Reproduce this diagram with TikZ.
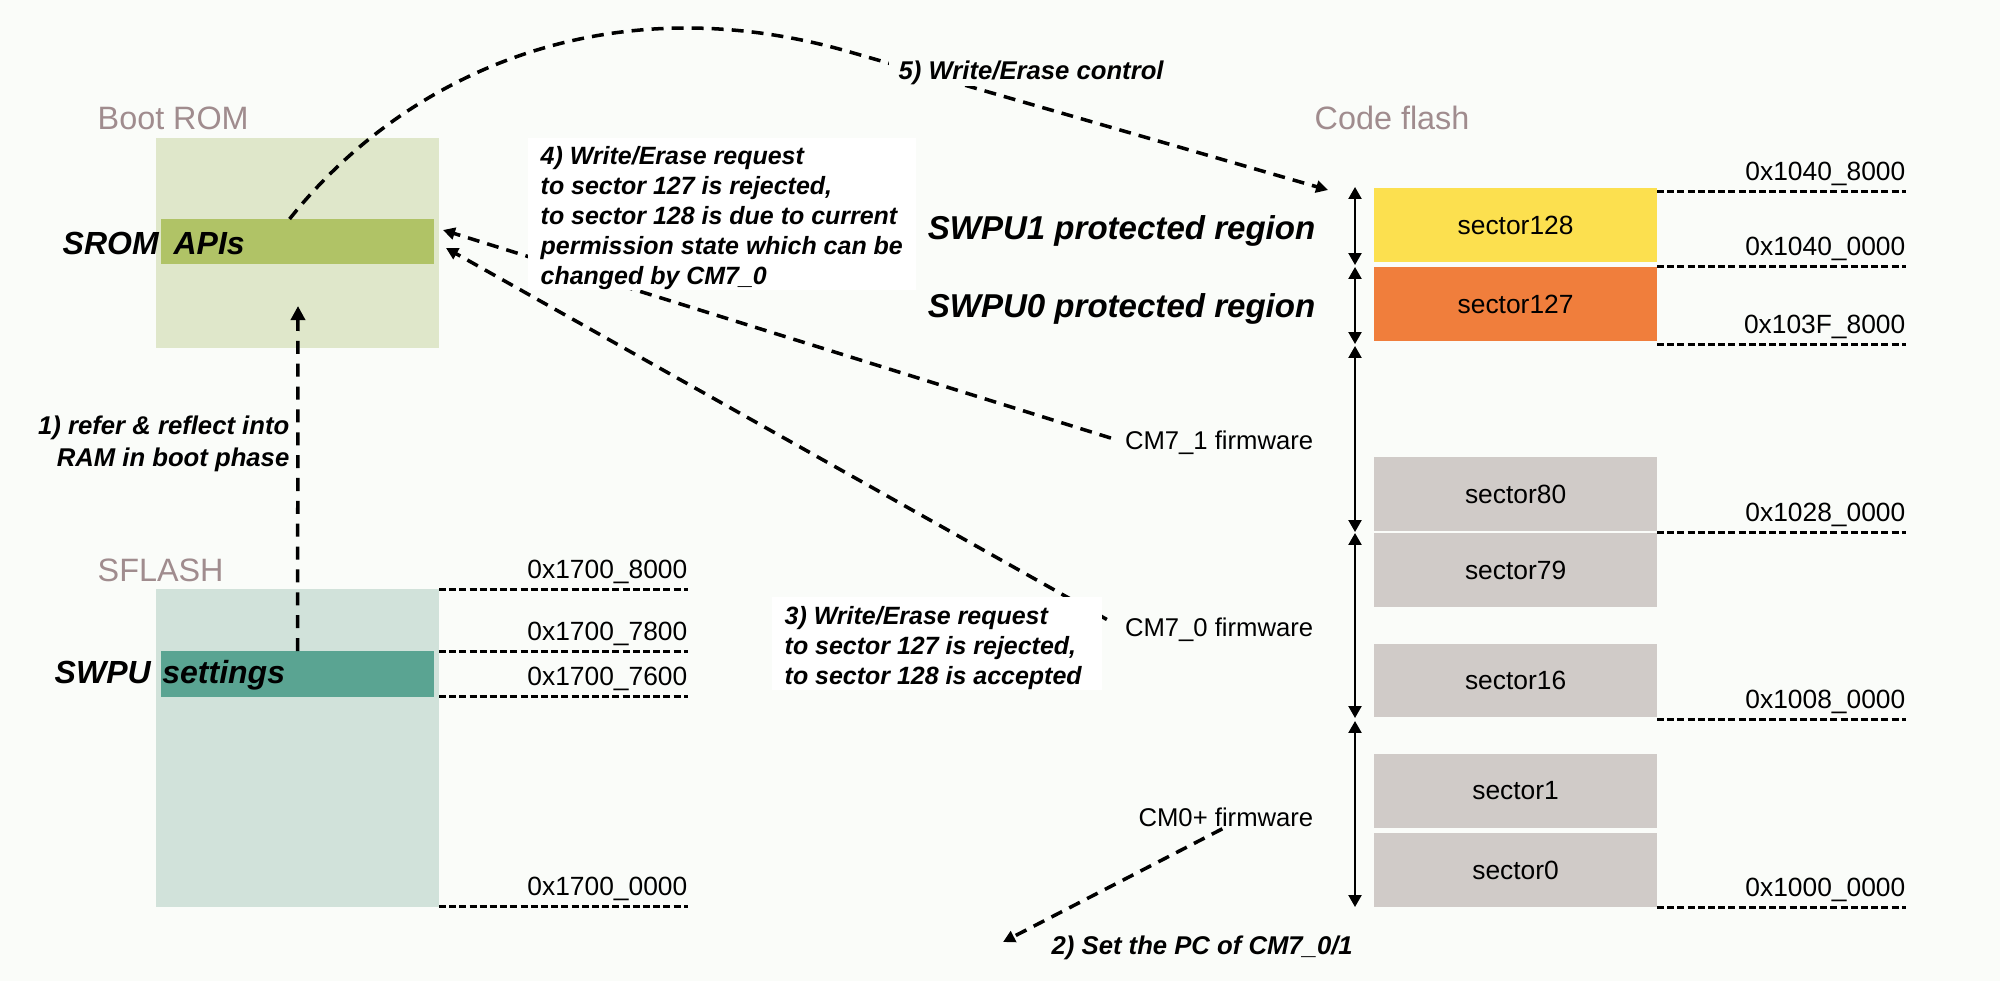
\documentclass[tikz,border=0pt]{standalone}
\usepackage{fontspec}
\setmainfont{Liberation Sans}
\usetikzlibrary{arrows.meta,calc}
\definecolor{bg}{HTML}{FAFCF9}
\definecolor{bootromfill}{HTML}{DFE7CA}
\definecolor{sromfill}{HTML}{B0C366}
\definecolor{sflashfill}{HTML}{D1E2DA}
\definecolor{swpufill}{HTML}{5AA492}
\definecolor{yellowsec}{HTML}{FCE04F}
\definecolor{orangesec}{HTML}{F07E3C}
\definecolor{graysec}{HTML}{D0CBC8}
\definecolor{mauve}{HTML}{A08C8E}
\begin{document}
\begin{tikzpicture}[x=0.01cm,y=-0.01cm,
  blk/.style={anchor=north west, inner sep=0, outer sep=0, draw=none},
  secbox/.style={blk, minimum width=2.83cm, minimum height=0.74cm, font=\fontsize{7.5}{9}\selectfont},
  xtitle/.style={font=\fontsize{9.2}{11}\selectfont, text=mauve, inner sep=0, anchor=base west},
  xbig/.style={font=\fontsize{9.1}{11}\selectfont\bfseries\itshape, inner sep=0},
  xbigger/.style={font=\fontsize{9.4}{11}\selectfont\bfseries\itshape, inner sep=0},
  xnote/.style={font=\fontsize{7.3}{9.1}\selectfont\bfseries\itshape, inner sep=0},
  xnotefour/.style={font=\fontsize{7.1}{8.5}\selectfont\bfseries\itshape, inner sep=0},
  xfw/.style={font=\fontsize{7.3}{9}\selectfont, inner sep=0, anchor=base east},
  addrlab/.style={font=\fontsize{7.5}{9}\selectfont, inner sep=0, anchor=base east},
  addrline/.style={line width=0.85pt, dash pattern=on 2pt off 0.9pt},
  dconn/.style={line width=1pt, dash pattern=on 3.4pt off 2.3pt, -{Triangle[length=3.4pt,width=3.4pt]}},
  vconn/.style={line width=1pt, dash pattern=on 3.7pt off 2.8pt, -{Triangle[length=4pt,width=4pt]}},
  spanarrow/.style={line width=0.6pt, {Triangle[length=3.4pt,width=3.7pt]}-{Triangle[length=3.4pt,width=3.7pt]}}
]
\useasboundingbox (0,0) rectangle (2000,981);
\fill[bg] (0,0) rectangle (2000,981);

% ---- left memory blocks
\node[blk, fill=bootromfill, minimum width=2.83cm, minimum height=2.10cm] (bootrom) at (156,138) {};
\node[blk, fill=sromfill, minimum width=2.73cm, minimum height=0.45cm] (srom) at (161,219) {};
\node[blk, fill=sflashfill, minimum width=2.83cm, minimum height=3.18cm] (sflash) at (156,589) {};
\node[blk, fill=swpufill, minimum width=2.73cm, minimum height=0.46cm] (swpu) at (161,651) {};

% ---- code flash sectors
\node[secbox, fill=yellowsec] (s128) at (1374,188) {sector128};
\node[secbox, fill=orangesec] (s127) at (1374,267) {sector127};
\node[secbox, fill=graysec] (s80) at (1374,457) {sector80};
\node[secbox, fill=graysec] (s79) at (1374,533) {sector79};
\node[secbox, fill=graysec, minimum height=0.73cm] (s16) at (1374,644) {sector16};
\node[secbox, fill=graysec] (s1) at (1374,754) {sector1};
\node[secbox, fill=graysec] (s0) at (1374,833) {sector0};

% ---- address marker lines
\draw[addrline] (439,589) -- (688,589);
\draw[addrline] (439,651) -- (688,651);
\draw[addrline] (439,696) -- (688,696);
\draw[addrline] (439,906) -- (688,906);
\draw[addrline] (1657,191) -- (1906,191);
\draw[addrline] (1657,266) -- (1906,266);
\draw[addrline] (1657,344) -- (1906,344);
\draw[addrline] (1657,532) -- (1906,532);
\draw[addrline] (1657,719) -- (1906,719);
\draw[addrline] (1657,907) -- (1906,907);

\node[addrlab] (a17008) at (688,578) {0x1700\_8000};
\node[addrlab] (a17078) at (688,640) {0x1700\_7800};
\node[addrlab] (a17076) at (688,685) {0x1700\_7600};
\node[addrlab] (a17000) at (688,895) {0x1700\_0000};
\node[addrlab] (a10408) at (1906,180) {0x1040\_8000};
\node[addrlab] (a10400) at (1906,255) {0x1040\_0000};
\node[addrlab] (a103f8) at (1906,333) {0x103F\_8000};
\node[addrlab] (a10280) at (1906,521) {0x1028\_0000};
\node[addrlab] (a10080) at (1906,708) {0x1008\_0000};
\node[addrlab] (a10000) at (1906,896) {0x1000\_0000};

% ---- region span arrows
\draw[spanarrow] (1355,187) -- (1355,265);
\draw[spanarrow] (1355,267) -- (1355,344);
\draw[spanarrow] (1355,346) -- (1355,532);
\draw[spanarrow] (1355,533) -- (1355,718);
\draw[spanarrow] (1355,721) -- (1355,907);

% ---- labels
\node[xtitle] (lbootrom) at (97,129.5) {Boot ROM};
\node[xtitle] (lsflash) at (97,581.5) {SFLASH};
\node[xtitle] (lcode) at (1314,129.5) {Code flash};
\node[xbig, anchor=base west] (lsrom) at (62,254.5) {SROM\hspace{1.7pt} APIs};
\node[xbig, anchor=base west] (lswpu) at (54,683.5) {SWPU\hspace{0.8pt} settings};
\node[xbigger, anchor=base east] (lswpu1) at (1316,239) {SWPU1 protected region};
\node[xbigger, anchor=base east] (lswpu0) at (1316,317) {SWPU0 protected region};
\node[xfw] (cm71) at (1314,449) {CM7\_1 firmware};
\node[xfw] (cm70) at (1314,636) {CM7\_0 firmware};
\node[xfw] (cm0) at (1314,826) {CM0+ firmware};

% ---- connectors
\coordinate (t1) at (298,306);
\coordinate (t3) at (446,248);
\coordinate (t4) at (443,230);
\coordinate (t2) at (1003,942);
\coordinate (t5) at (1328,190);
\coordinate (k5) at (850,52);

\draw[vconn] (swpu.north) -- (t1);
\draw[dconn, shorten <=0.14cm] (cm71.west) -- (t4);
\draw[dconn, shorten <=0.2cm] (cm70.west) -- (t3);
\draw[dconn, shorten <=0.04cm] (cm0.south) -- (t2);
\draw[dconn] ([xshift=-0.08cm]srom.north) .. controls (400,80) and (600,-20) .. (k5) -- (t5);

% ---- white note boxes
\node[blk, fill=white, minimum width=3.88cm, minimum height=1.52cm] (box4) at (528,138) {};
\node[blk, fill=white, minimum width=3.30cm, minimum height=0.93cm] (box3) at (772,597) {};

\node[xnote, anchor=north east, align=right] (n1) at (290,415) {1) refer \& reflect into\\RAM in boot phase};
\node[xnotefour, anchor=north west, align=left] (n4) at (540,146) {4) Write/Erase request\\to sector 127 is rejected,\\to sector 128 is due to current\\permission state which can be\\changed by CM7\_0};
\node[xnotefour, anchor=north west, align=left] (n3) at (784,606) {3) Write/Erase request\\to sector 127 is rejected,\\to sector 128 is accepted};
\node[xnote, anchor=base west, fill=bg, inner xsep=0.1cm, inner ysep=0.02cm] (n5) at (888,79) {5) Write/Erase control};
\node[xnote, anchor=base west] (n2) at (1051,954) {2) Set the PC of CM7\_0/1};
\end{tikzpicture}
\end{document}
